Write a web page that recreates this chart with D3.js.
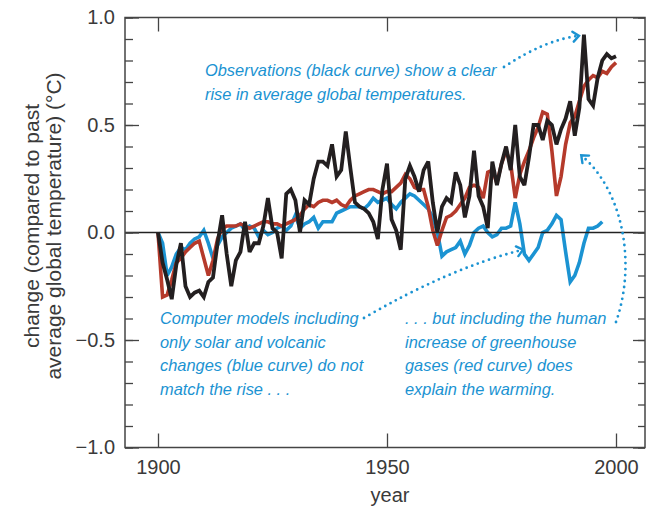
<!DOCTYPE html>
<html>
<head>
<meta charset="utf-8">
<script src="https://cdn.jsdelivr.net/npm/d3@7"></script>
<style>
  html, body { margin: 0; padding: 0; background: #fff; }
  svg { display: block; font-family: "Liberation Sans", Arial, sans-serif; }
  .tick text { fill: #3a3a3a; font-size: 20px; }
  .note { fill: #1b93d2; font-size: 16.4px; font-style: italic; }
</style>
</head>
<body>
<svg id="chart"></svg>
<script>
// ── DATA ───────────────────────────────────────────────────────────────────
const years = d3.range(1900, 2001);

// observations (black)
const observed = [
   0.00, -0.14, -0.22, -0.31, -0.15, -0.05, -0.25, -0.30, -0.28, -0.27,
  -0.30, -0.23, -0.21, -0.05,  0.08, -0.10, -0.25, -0.13, -0.09,  0.05,
  -0.09, -0.05, -0.05,  0.03,  0.16,  0.02,  0.00, -0.12,  0.18,  0.20,
   0.15,  0.00,  0.15,  0.13,  0.25,  0.33,  0.33,  0.31,  0.41,  0.26,
   0.29,  0.47,  0.30,  0.14,  0.12,  0.11,  0.09,  0.05, -0.03,  0.20,
   0.32,  0.06,  0.01, -0.08,  0.25,  0.31,  0.26,  0.19,  0.29,  0.33,
   0.14,  0.00,  0.12,  0.16,  0.14,  0.28,  0.22,  0.07,  0.17,  0.38,
   0.17,  0.12,  0.02,  0.33,  0.22,  0.32,  0.40,  0.29,  0.50,  0.26,
   0.22,  0.35,  0.50,  0.50,  0.43,  0.52,  0.50,  0.41,  0.48,  0.53,
   0.61,  0.45,  0.58,  0.92,  0.62,  0.59,  0.72,  0.80,  0.83,  0.81,
   0.82
];

// models with natural + human forcing (red)
const modelAll = [
   0.00, -0.30, -0.29, -0.22, -0.14, -0.12, -0.09, -0.07, -0.05, -0.04,
  -0.12, -0.20, -0.13, -0.03,  0.02,  0.03,  0.03,  0.03,  0.04,  0.03,
   0.02,  0.03,  0.04,  0.05,  0.05,  0.04,  0.04,  0.03,  0.04,  0.05,
   0.06,  0.08,  0.11,  0.13,  0.12,  0.14,  0.15,  0.15,  0.14,  0.15,
   0.13,  0.12,  0.15,  0.17,  0.18,  0.19,  0.20,  0.20,  0.19,  0.18,
   0.19,  0.19,  0.21,  0.23,  0.27,  0.25,  0.21,  0.20,  0.20,  0.12,
   0.01, -0.06,  0.01,  0.07,  0.08,  0.10,  0.13,  0.16,  0.21,  0.22,
   0.21,  0.16,  0.28,  0.29,  0.23,  0.32,  0.38,  0.32,  0.16,  0.27,
   0.33,  0.38,  0.44,  0.49,  0.56,  0.55,  0.38,  0.17,  0.26,  0.41,
   0.51,  0.54,  0.61,  0.68,  0.71,  0.73,  0.72,  0.75,  0.74,  0.77,
   0.79
];

// models with solar + volcanic only (blue), 1900-1997
const modelNatural = [
   0.00, -0.05, -0.20, -0.16, -0.10, -0.07, -0.08, -0.05, -0.03, -0.02,
   0.01, -0.05, -0.12, -0.06, -0.02,  0.00,  0.02,  0.03,  0.04,  0.01,
   0.03,  0.02, -0.02,  0.01, -0.01,  0.00,  0.02,  0.03,  0.01,  0.03,
   0.08,  0.02,  0.04,  0.05,  0.07,  0.02,  0.05,  0.05,  0.05,  0.09,
   0.10,  0.11,  0.12,  0.12,  0.12,  0.11,  0.13,  0.16,  0.14,  0.15,
   0.16,  0.13,  0.11,  0.14,  0.16,  0.18,  0.17,  0.15,  0.13,  0.11,
   0.07,  0.00, -0.11, -0.09, -0.08, -0.07, -0.04, -0.10, -0.06,  0.00,
   0.02,  0.03,  0.00, -0.02, -0.01,  0.02,  0.02,  0.03,  0.14,  0.04,
  -0.10, -0.13, -0.10, -0.07,  0.00,  0.01,  0.04,  0.08,  0.06, -0.09,
  -0.23, -0.20, -0.14, -0.05,  0.02,  0.02,  0.03,  0.05
];

const xTicks = [1900, 1950, 2000];
const yTicks = [-1.0, -0.5, 0.0, 0.5, 1.0];
const yMinor = d3.range(-10, 11).map(d => d / 10);

const SERIES = [
  { values: modelNatural, color: "#1b93d2", width: 3.6 },
  { values: modelAll,     color: "#b53a2b", width: 3.6 },
  { values: observed,     color: "#231f20", width: 3.8 }
];

// ── DIMENSIONS ─────────────────────────────────────────────────────────────
const W = 658, H = 511;
const frame = { left: 125, right: 645, top: 17.5, bottom: 447.5 };

const svg = d3.select("#chart").attr("width", W).attr("height", H);

const x = d3.scaleLinear().domain([1900, 2000]).range([158, 616]);
const y = d3.scaleLinear().domain([-1, 1]).range([frame.bottom, frame.top]);

const AXIS = "#444";

// ── SERIES ─────────────────────────────────────────────────────────────────
const line = d3.line()
  .x((d, i) => x(years[i]))
  .y(d => y(d));

svg.append("g").selectAll("path")
  .data(SERIES)
  .join("path")
    .attr("d", d => line(d.values))
    .attr("fill", "none")
    .attr("stroke", d => d.color)
    .attr("stroke-width", d => d.width)
    .attr("stroke-linejoin", "miter")
    .attr("stroke-miterlimit", 3);

// zero line
svg.append("line")
  .attr("x1", frame.left).attr("x2", frame.right)
  .attr("y1", y(0)).attr("y2", y(0))
  .attr("stroke", "#222").attr("stroke-width", 1.3);

// ── AXES ───────────────────────────────────────────────────────────────────
const styleAxis = ax => {
  ax.select(".domain").remove();
  ax.selectAll(".tick line").attr("stroke", AXIS).attr("stroke-width", 1.3);
};

svg.append("g")
  .attr("transform", `translate(${frame.left},0)`)
  .call(d3.axisLeft(y).tickValues(yMinor).tickSize(-8).tickFormat(""))
  .call(styleAxis);

svg.append("g")
  .attr("transform", `translate(${frame.left},0)`)
  .call(d3.axisLeft(y).tickValues(yTicks).tickSize(-14).tickPadding(10)
    .tickFormat(d => d3.format(".1f")(d).replace("-", "\u2212")))
  .call(styleAxis);

svg.append("g")
  .attr("transform", `translate(${frame.right},0)`)
  .call(d3.axisRight(y).tickValues(yMinor).tickSize(-7).tickFormat(""))
  .call(styleAxis);

svg.append("g")
  .attr("transform", `translate(${frame.right},0)`)
  .call(d3.axisRight(y).tickValues(yTicks).tickSize(-12).tickFormat(""))
  .call(styleAxis);

svg.append("g")
  .attr("transform", `translate(0,${frame.bottom})`)
  .call(d3.axisBottom(x).tickValues(xTicks).tickSize(-14).tickPadding(12)
    .tickFormat(d3.format("d")))
  .call(styleAxis);

svg.append("g")
  .attr("transform", `translate(0,${frame.top})`)
  .call(d3.axisTop(x).tickValues(xTicks).tickSize(-14).tickFormat(""))
  .call(styleAxis);

// frame
svg.append("rect")
  .attr("x", frame.left).attr("y", frame.top)
  .attr("width", frame.right - frame.left)
  .attr("height", frame.bottom - frame.top)
  .attr("fill", "none").attr("stroke", AXIS).attr("stroke-width", 1.5);

// ── AXIS TITLES ────────────────────────────────────────────────────────────
svg.append("text")
  .attr("x", 390).attr("y", 502)
  .attr("text-anchor", "middle")
  .attr("fill", "#3a3a3a").style("font-size", "20px")
  .text("year");

const yTitle = svg.append("text")
  .attr("transform", "translate(0,226) rotate(-90)")
  .attr("text-anchor", "middle")
  .attr("fill", "#3a3a3a").style("font-size", "21px");
yTitle.append("tspan").attr("x", 0).attr("y", 39).text("change (compared to past");
yTitle.append("tspan").attr("x", 0).attr("y", 61).text("average global temperature) (\u00B0C)");

// ── ANNOTATIONS ────────────────────────────────────────────────────────────
const notes = [
  { x: 205, y: 76, lines: ["Observations (black curve) show a clear",
                           "rise in average global temperatures."] },
  { x: 160, y: 324, lines: ["Computer models including", "only solar and volcanic",
                            "changes (blue curve) do not", "match the rise . . ."] },
  { x: 405, y: 324, lines: [". . . but including the human", "increase of greenhouse",
                            "gases (red curve) does", "explain the warming."] }
];

notes.forEach(n => {
  const t = svg.append("text").attr("class", "note");
  n.lines.forEach((s, i) => {
    t.append("tspan").attr("x", n.x).attr("y", n.y + i * 23.5).text(s);
  });
});

// dotted arrows
const arrows = [
  "M504,67 Q545,40 578,36",
  "M364,318 Q450,268 522,250",
  "M616,322 C637,262 622,190 582,156"
];

arrows.forEach(d => {
  const p = svg.append("path")
    .attr("d", d)
    .attr("fill", "none")
    .attr("stroke", "#1b93d2")
    .attr("stroke-width", 2.8)
    .attr("stroke-linecap", "round")
    .attr("stroke-dasharray", "0 6");
  const node = p.node();
  const L = node.getTotalLength();
  const end = node.getPointAtLength(L);
  const prev = node.getPointAtLength(L - 4);
  const ang = Math.atan2(end.y - prev.y, end.x - prev.x) * 180 / Math.PI;
  svg.append("path")
    .attr("d", "M-5,-5 L1,0 L-5,5")
    .attr("transform", `translate(${end.x},${end.y}) rotate(${ang})`)
    .attr("fill", "none")
    .attr("stroke", "#1b93d2")
    .attr("stroke-width", 2.4)
    .attr("stroke-linecap", "round");
});
</script>
</body>
</html>
